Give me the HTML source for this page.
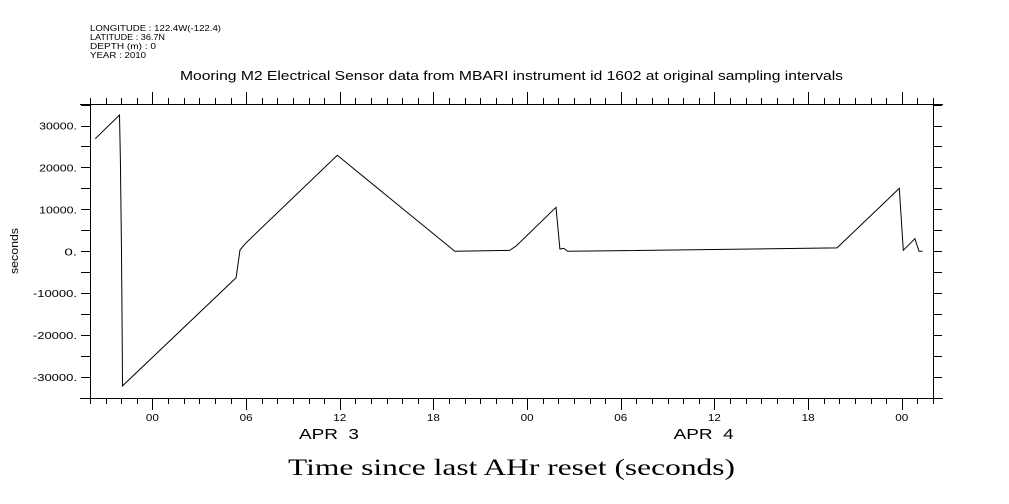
<!DOCTYPE html>
<html><head><meta charset="utf-8"><style>
html,body{margin:0;padding:0;background:#fff;}
svg{display:block;}
text{font-family:"Liberation Sans",sans-serif;fill:#000;}
</style></head><body>
<svg id="chart" width="1009" height="504" viewBox="0 0 1009 504" xmlns="http://www.w3.org/2000/svg">
<g font-size="8.5">
<text x="90" y="31" textLength="131" lengthAdjust="spacingAndGlyphs">LONGITUDE : 122.4W(-122.4)</text>
<text x="90" y="40" textLength="75" lengthAdjust="spacingAndGlyphs">LATITUDE : 36.7N</text>
<text x="90" y="49" textLength="66" lengthAdjust="spacingAndGlyphs">DEPTH (m) : 0</text>
<text x="90" y="58" textLength="56" lengthAdjust="spacingAndGlyphs">YEAR : 2010</text>
</g>
<text x="180" y="80" font-size="13" textLength="663" lengthAdjust="spacingAndGlyphs">Mooring M2 Electrical Sensor data from MBARI instrument id 1602 at original sampling intervals</text>
<text transform="translate(18,251) rotate(-90)" font-size="11" text-anchor="middle" textLength="46" lengthAdjust="spacingAndGlyphs">seconds</text>
<text x="288" y="475" font-size="23" textLength="447" lengthAdjust="spacingAndGlyphs" style="font-family:'Liberation Serif',serif">Time since last AHr reset (seconds)</text>
<g id="axes"></g>
<g id="marks"></g>
</svg>
<script>
const hours = [-3.66,-2.11,-2.05,-1.98,-1.94,-1.92,5.36,5.61,5.97,11.84,19.37,22.89,23.3,25.85,26.1,26.35,26.6,43.85,47.84,48.1,48.84,49.1,49.33];
const values = [26850,32500,21600,0,-21000,-32100,-6300,300,1900,22900,0,250,1260,10500,550,700,0,800,15000,250,3000,0,0];
const yTicks = [-30000,-20000,-10000,0,10000,20000,30000];
const yTickLabels = ["-30000.","-20000.","-10000.","0.","10000.","20000.","30000."];
const xTickHours = [0,6,12,18,24,30,36,42,48];
const xTickLabels = ["00","06","12","18","00","06","12","18","00"];
const dayLabels = ["APR  3","APR  4"];
const dayHours = [11.5,35.5];

const L=90,R=933,T=104,B=398;
const xMin=-4,xMax=50;
function xs(h){return L+(h-xMin)/(xMax-xMin)*(R-L);}
function ys(v){return 251.3 - v*0.004193;}
const NS="http://www.w3.org/2000/svg";
const axes=document.getElementById('axes'), marks=document.getElementById('marks');
function ln(p,x1,y1,x2,y2,name){const e=document.createElementNS(NS,'line');
e.setAttribute('x1',x1);e.setAttribute('y1',y1);e.setAttribute('x2',x2);e.setAttribute('y2',y2);
e.setAttribute('stroke','#000');e.setAttribute('stroke-width','1');


p.appendChild(e);return e;}
function tx(p,x,y,s,size,anchor,len,name){const e=document.createElementNS(NS,'text');
e.setAttribute('x',x);e.setAttribute('y',y);e.setAttribute('font-size',size);e.setAttribute('text-anchor',anchor);
e.setAttribute('textLength',len);e.setAttribute('lengthAdjust','spacingAndGlyphs');
e.style.whiteSpace='pre';e.textContent=s;


p.appendChild(e);}
ln(axes,80,T+.5,943,T+.5,'top-axis-line');
ln(axes,80,B+.5,943,B+.5,'bottom-axis-line');
ln(axes,L+.5,T,L+.5,B+1,'left-axis-line');
ln(axes,R+.5,T,R+.5,B+1,'right-axis-line');
for(let h=xMin;h<=xMax;h++){const x=Math.round(xs(h))+.5;const major=((h%6)+6)%6===0;const len=major?12:6;
ln(axes,x,T-len,x,T,'top-tick');ln(axes,x,B,x,B+len,'bottom-tick');}
for(let v=-35000;v<=35000;v+=5000){const y=Math.round(ys(v))+.5;if(y<T||y>B)continue;
ln(axes,L-9,y,L,y,'left-tick');ln(axes,R,y,R+9,y,'right-tick');}
yTicks.forEach((v,i)=>tx(axes,77,ys(v)+4,yTickLabels[i],10.5,'end',yTickLabels[i].length*6.3,'y-tick-label'));
xTickHours.forEach((h,i)=>tx(axes,xs(h),421,xTickLabels[i],10.5,'middle',13,'x-tick-label'));
dayLabels.forEach((s,i)=>tx(axes,xs(dayHours[i])-3,439,s,14.5,'middle',60,'date-label'));
const pl=document.createElementNS(NS,'polyline');
pl.setAttribute('points',hours.map((h,i)=>xs(h).toFixed(1)+','+ys(values[i]).toFixed(1)).join(' '));
pl.setAttribute('fill','none');pl.setAttribute('stroke','#000');pl.setAttribute('stroke-width','1');


marks.appendChild(pl);
</script>
</body></html>
